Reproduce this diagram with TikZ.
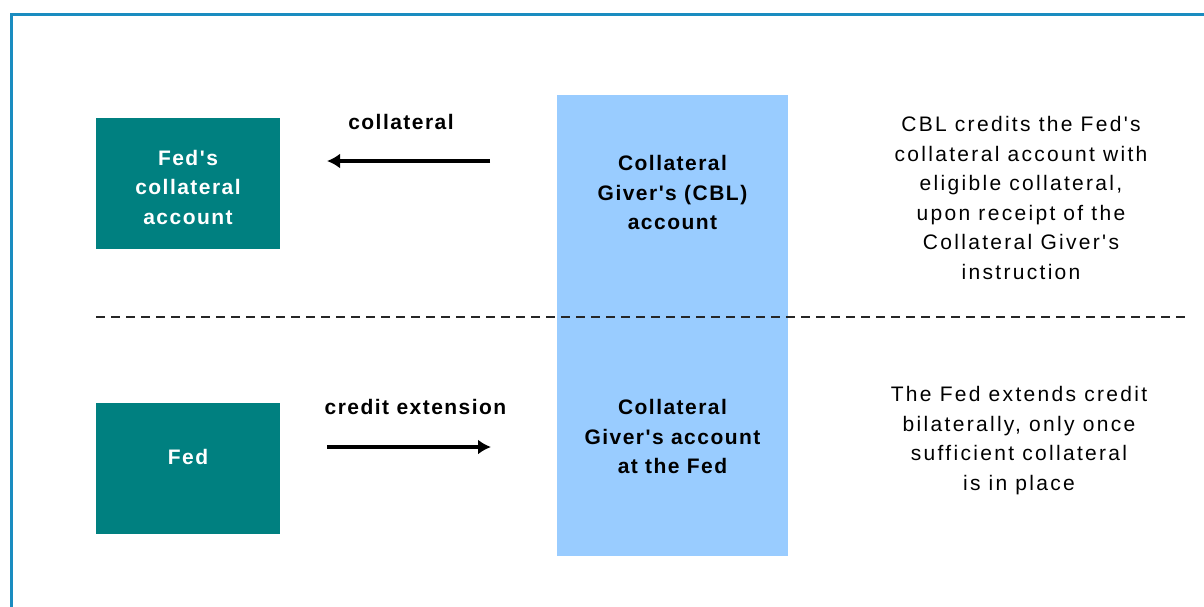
\documentclass[tikz,border=0pt]{standalone}
\usepackage{fontspec}
\setmainfont{Liberation Sans}[LetterSpace=11,Ligatures=TeXOff]
\newfontfamily\boldlabel{Liberation Sans Bold}[LetterSpace=7,Ligatures=TeXOff]
\usetikzlibrary{arrows.meta}
\definecolor{framecol}{HTML}{1A8CC0}
\definecolor{tealbox}{HTML}{008080}
\definecolor{bluecol}{HTML}{99CCFF}
\begin{document}
\begin{tikzpicture}[x=1pt,y=-1pt,
  every node/.style={inner sep=0pt,outer sep=0pt},
  txt/.style={font=\fontsize{21}{29.5}\selectfont,align=center,text=black},
  btxt/.style={font=\fontsize{21}{29.5}\selectfont\boldlabel,align=center,text=black},
  wtxt/.style={font=\fontsize{21}{29.5}\selectfont\boldlabel,align=center,text=white},
  tealrect/.style={fill=tealbox,draw=none,minimum width=184pt,minimum height=131pt},
  flowarrow/.style={line width=4pt,-{Latex[length=13pt,width=15pt]}}]
\useasboundingbox (0,0) rectangle (1204,606);
\fill[white] (0,0) rectangle (1204,606);
% frame
\coordinate (frTR) at (1206,14);
\coordinate (frTL) at (11,14);
\coordinate (frBL) at (11,608);
\draw[framecol,line width=3pt] (frTR) -- (frTL) -- (frBL);
% blue column
\node[fill=bluecol,minimum width=231pt,minimum height=461pt] (col) at (672.5,325.5) {};
% dashed divider
\coordinate (dashL) at (96,317);
\coordinate (dashR) at (1188,317);
\draw[line width=2pt,black!85,dash pattern=on 9pt off 6pt] (dashL) -- (dashR);
% teal boxes
\node[tealrect] (fedcoll) at (188,183.5) {};
\node[wtxt] (fedcolltxt) at (188,187) {Fed's\\collateral\\account};
\node[tealrect] (fed) at (188,468.5) {};
\node[wtxt] (fedtxt) at (188,457) {Fed};
% column texts
\node[btxt] (cbl) at (672.5,192.5) {Collateral\\Giver's (CBL)\\account};
\node[btxt] (cgfed) at (672.5,436.5) {Collateral\\Giver's account\\at the Fed};
% arrows
\coordinate (a1s) at (490,161);
\coordinate (a1e) at (327,161);
\draw[flowarrow] (a1s) -- (a1e);
\node[btxt] (lcoll) at (401,122) {collateral};
\coordinate (a2s) at (327,447);
\coordinate (a2e) at (491,447);
\draw[flowarrow] (a2s) -- (a2e);
\node[btxt] (lcred) at (415.5,407) {credit extension};
% right notes
\node[txt] (note1) at (1021,198) {CBL credits the Fed's\\collateral account with\\eligible collateral,\\upon receipt of the\\Collateral Giver's\\instruction};
\node[txt] (note2) at (1019,440.5) {The Fed extends credit\\bilaterally, only once\\sufficient collateral\\is in place};
\end{tikzpicture}
\end{document}
